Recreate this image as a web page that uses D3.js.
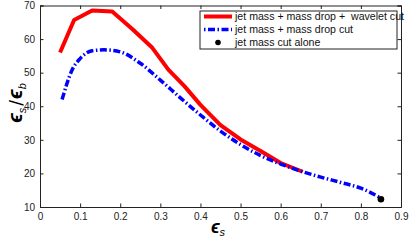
<!DOCTYPE html>
<html>
<head>
<meta charset="utf-8">
<script src="https://cdn.jsdelivr.net/npm/d3@7"></script>
<style>
  body { margin: 0; background: #fff; }
  text { font-family: "Liberation Sans", Arial, sans-serif; }
</style>
</head>
<body>
<svg id="chart" width="409" height="243"></svg>
<script>
// signal efficiency vs eps_s/eps_b

var redX = [0.05, 0.085, 0.13, 0.18, 0.23, 0.28, 0.32, 0.36, 0.40, 0.45, 0.50, 0.55, 0.60, 0.655];
var redY = [56, 65.7, 68.5, 68.2, 63, 57.4, 50.9, 46, 40.4, 34.4, 30.1, 26.7, 23.1, 20.5];

var blueX = [0.055, 0.08, 0.10, 0.13, 0.16, 0.20, 0.25, 0.30, 0.35, 0.40, 0.45, 0.50, 0.55, 0.60, 0.65, 0.70, 0.75, 0.80, 0.845];
var blueY = [42, 50.8, 54.2, 56.5, 56.8, 56.2, 52.8, 47.8, 42.5, 37.4, 32.6, 28.6, 25.3, 22.8, 20.7, 18.9, 17.3, 15.6, 13];

var dotX = [0.85];
var dotY = [12.3];

var xTicks = [0, 0.1, 0.2, 0.3, 0.4, 0.5, 0.6, 0.7, 0.8, 0.9];
var yTicks = [10, 20, 30, 40, 50, 60, 70];

var legendLabels = ["jet mass + mass drop +  wavelet cut", "jet mass + mass drop cut", "jet mass cut alone"];

var margin = {top: 5.5, right: 8, bottom: 36, left: 40};
var width = 409 - margin.left - margin.right;
var height = 243 - margin.top - margin.bottom;

var svg = d3.select("#chart");
var g = svg.append("g").attr("transform", "translate(" + margin.left + "," + margin.top + ")");

var x = d3.scaleLinear().domain([0, 0.9]).range([0, width]);
var y = d3.scaleLinear().domain([10, 70]).range([height, 0]);

var line = d3.line()
    .x(function(d) { return x(d[0]); })
    .y(function(d) { return y(d[1]); });

// axes, ticks inward on all four sides
var tickLen = 3.5;
g.append("g")
    .attr("class", "axis")
    .attr("transform", "translate(0," + height + ")")
    .call(d3.axisBottom(x).tickValues(xTicks).tickSize(-tickLen).tickPadding(6).tickFormat(function(d) { return d; }));
g.append("g")
    .attr("class", "axis")
    .call(d3.axisTop(x).tickValues(xTicks).tickSize(-tickLen).tickFormat(""));
g.append("g")
    .attr("class", "axis")
    .call(d3.axisLeft(y).tickValues(yTicks).tickSize(-tickLen).tickPadding(5));
g.append("g")
    .attr("class", "axis")
    .attr("transform", "translate(" + width + ",0)")
    .call(d3.axisRight(y).tickValues(yTicks).tickSize(-tickLen).tickFormat(""));

g.selectAll(".axis path").attr("stroke", "#222").attr("stroke-width", 1);
g.selectAll(".axis line").attr("stroke", "#222");
g.selectAll(".axis text").attr("font-size", 10).attr("fill", "#222")
    .attr("font-family", "Liberation Sans, Arial, sans-serif");

// series
var redData = redX.map(function(v, i) { return [v, redY[i]]; });
var blueData = blueX.map(function(v, i) { return [v, blueY[i]]; });

g.append("path")
    .datum(redData)
    .attr("d", line)
    .attr("fill", "none")
    .attr("stroke", "#ff0000")
    .attr("stroke-width", 4)
    .attr("stroke-linejoin", "round");

g.append("path")
    .datum(blueData)
    .attr("d", d3.line().curve(d3.curveMonotoneX).x(function(d) { return x(d[0]); }).y(function(d) { return y(d[1]); }))
    .attr("fill", "none")
    .attr("stroke", "#0000ff")
    .attr("stroke-width", 3.5)
    .attr("stroke-dasharray", "7,2.5,1.5,2.5");

g.selectAll(".dot")
    .data(dotX)
    .enter().append("circle")
    .attr("cx", function(d) { return x(d); })
    .attr("cy", function(d, i) { return y(dotY[i]); })
    .attr("r", 3.3)
    .attr("fill", "#000");

// legend
var lg = svg.append("g").attr("transform", "translate(200,11)");
lg.append("rect")
    .attr("width", 197).attr("height", 38)
    .attr("fill", "#fff").attr("stroke", "#222").attr("stroke-width", 1);

var rows = lg.selectAll(".row")
    .data(legendLabels)
    .enter().append("g")
    .attr("transform", function(d, i) { return "translate(0," + (5.5 + i * 13) + ")"; });

rows.append("text")
    .attr("x", 35)
    .attr("dy", "0.35em")
    .attr("font-size", 10.6)
    .attr("fill", "#111")
    .style("white-space", "pre")
    .text(function(d) { return d; });

rows.filter(function(d, i) { return i == 0; }).append("line")
    .attr("x1", 4).attr("x2", 32)
    .attr("stroke", "#ff0000").attr("stroke-width", 4);
rows.filter(function(d, i) { return i == 1; }).append("line")
    .attr("x1", 4).attr("x2", 32)
    .attr("stroke", "#0000ff").attr("stroke-width", 3.5)
    .attr("stroke-dasharray", "1.5,2.5,7,2.5");
rows.filter(function(d, i) { return i == 2; }).append("circle")
    .attr("cx", 18).attr("r", 2.8).attr("fill", "#000");

// axis titles
var xt = svg.append("text")
    .attr("x", 218).attr("y", 233)
    .attr("text-anchor", "middle")
    .attr("font-family", "DejaVu Serif, serif")
    .attr("font-weight", "bold").attr("font-style", "italic")
    .attr("font-size", 18);
xt.append("tspan").text("ϵ");
xt.append("tspan").attr("font-size", 11).attr("font-weight", "normal").attr("dy", 3).text("s");

var yt = svg.append("text")
    .attr("transform", "translate(22,103) rotate(-90)")
    .attr("text-anchor", "middle")
    .attr("font-family", "DejaVu Serif, serif")
    .attr("font-weight", "bold").attr("font-style", "italic")
    .attr("font-size", 20);
yt.append("tspan").text("ϵ");
yt.append("tspan").attr("font-size", 11).attr("font-weight", "normal").attr("dy", 4).text("s");
yt.append("tspan").attr("dy", -4).attr("dx", 2).attr("font-style", "normal").attr("font-weight", "normal")
    .attr("font-family", "DejaVu Sans, sans-serif").attr("font-size", 17).text("/");
yt.append("tspan").attr("dx", 1).text("ϵ");
yt.append("tspan").attr("font-size", 11).attr("font-weight", "normal").attr("dy", 4).text("b");
</script>
</body>
</html>
